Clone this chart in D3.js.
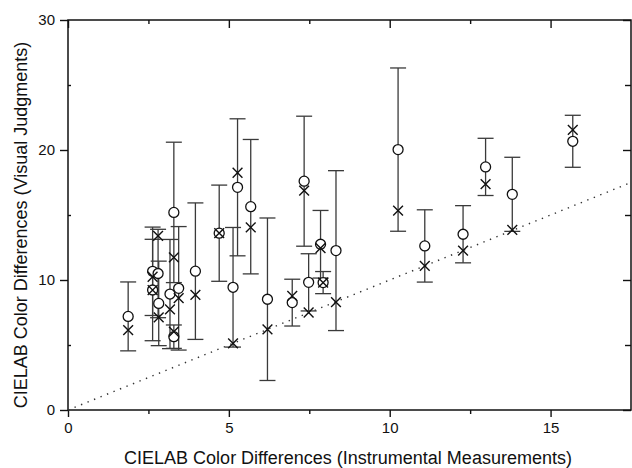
<!DOCTYPE html>
<html>
<head>
<meta charset="utf-8">
<script src="https://cdn.jsdelivr.net/npm/d3@7"></script>
<style>
  body { margin: 0; background: #fff; }
  text { font-family: "Liberation Sans", Arial, sans-serif; fill: #111; }
  .tick text { font-size: 15px; }
  .axis-title { font-size: 18px; }
</style>
</head>
<body>
<div id="chart"></div>
<script>
// instrumental colour differences (x) for each sample
const instrumental = [1.87, 2.63, 2.63, 2.80, 2.82, 3.17, 3.29, 3.29, 3.44, 3.96,
  4.70, 5.13, 5.27, 5.68, 6.20, 6.97, 7.34, 7.48, 7.85, 7.93,
  8.33, 10.26, 11.09, 12.28, 12.98, 13.81, 15.69];
// visual judgments, mean (circles) and error half-width
const visualMean = [7.2, 10.67, 9.23, 10.5, 8.2, 8.92, 15.2, 5.64, 9.36, 10.68,
  13.6, 9.44, 17.13, 15.64, 8.52, 8.26, 17.6, 9.82, 12.75, 9.8,
  12.26, 20.03, 12.62, 13.52, 18.7, 16.59, 20.67];
const visualErr = [2.65, 3.4, 3.9, 3.4, 3.25, 4.2, 5.4, 0.9, 4.75, 5.25,
  3.7, 4.6, 5.27, 5.17, 6.25, 1.8, 5.0, 2.2, 2.6, 0.85,
  6.15, 6.28, 2.78, 2.2, 2.2, 2.85, 2.0];
// second estimate (crosses)
const crossVals = [6.15, 10.25, 9.23, 13.4, 7.13, 7.74, 11.74, 6.03, 8.6, 8.85,
  13.6, 5.13, 18.25, 14.05, 6.2, 8.77, 16.87, 7.5, 12.45, 9.8,
  8.3, 15.33, 11.08, 12.26, 17.38, 13.85, 21.54];

const xMajor = [0, 5, 10, 15], xMinor = [2.5, 7.5, 12.5];
const yMajor = [0, 10, 20, 30], yMinor = [5, 15, 25];

const data = instrumental.map((x, i) => ({
  x: x, mean: visualMean[i], err: visualErr[i], cross: crossVals[i]
}));

// set the dimensions and margins of the graph
const margin = {top: 20, right: 1, bottom: 58, left: 68},
    width = 632 - margin.left - margin.right,
    height = 468 - margin.top - margin.bottom;

const svgRoot = d3.select("#chart")
  .append("svg")
    .attr("width", 632)
    .attr("height", 468);
const svg = svgRoot.append("g")
    .attr("transform", `translate(${margin.left},${margin.top})`);

const x = d3.scaleLinear().domain([0, 17.5]).range([0, width]);
const y = d3.scaleLinear().domain([0, 30]).range([height, 0]);

// axes: major + minor ticks on all four sides
function addAxis(axisFn, scale, vals, size, transform, labels) {
  const g = svg.append("g")
    .attr("transform", transform)
    .call(axisFn(scale).tickValues(vals).tickSizeInner(size).tickSizeOuter(0)
      .tickPadding(5).tickFormat(labels ? d3.format("d") : ""));
  g.select(".domain").remove();
  g.selectAll(".tick line").attr("stroke", "#111").attr("stroke-width", 1.4);
  return g;
}
addAxis(d3.axisBottom, x, xMajor, 7, `translate(0,${height})`, true);
addAxis(d3.axisBottom, x, xMinor, 4, `translate(0,${height})`, false);
addAxis(d3.axisTop, x, xMajor, -8, "translate(0,0)", false);
addAxis(d3.axisTop, x, xMinor, -4, "translate(0,0)", false);
addAxis(d3.axisLeft, y, yMajor, 8, "translate(0,0)", true);
addAxis(d3.axisLeft, y, yMinor, -3, "translate(0,0)", false);
addAxis(d3.axisRight, y, yMajor, -8, `translate(${width},0)`, false);
addAxis(d3.axisRight, y, yMinor, -6, `translate(${width},0)`, false);

svg.selectAll(".tick text").style("font-size", "15px");

// frame
svg.append("rect")
  .attr("x", 0).attr("y", 0)
  .attr("width", width).attr("height", height)
  .attr("fill", "none")
  .attr("stroke", "#111")
  .attr("stroke-width", 1.5);

// identity line
svg.append("line")
  .attr("x1", x(0)).attr("y1", y(0))
  .attr("x2", x(17.5)).attr("y2", y(17.5))
  .attr("stroke", "#333")
  .attr("stroke-width", 1.4)
  .attr("stroke-dasharray", "1.4,5.6");

// error bars
const bars = svg.append("g").selectAll("g").data(data).join("g")
  .attr("stroke", "#3a3a3a")
  .attr("stroke-width", 1.3);
bars.append("line")
  .attr("x1", d => x(d.x)).attr("x2", d => x(d.x))
  .attr("y1", d => y(d.mean - d.err)).attr("y2", d => y(d.mean + d.err));
bars.append("line")
  .attr("x1", d => x(d.x) - 8).attr("x2", d => x(d.x) + 8)
  .attr("y1", d => y(d.mean + d.err)).attr("y2", d => y(d.mean + d.err));
bars.append("line")
  .attr("x1", d => x(d.x) - 8).attr("x2", d => x(d.x) + 8)
  .attr("y1", d => y(d.mean - d.err)).attr("y2", d => y(d.mean - d.err));

// circles
svg.append("g").selectAll("circle").data(data).join("circle")
  .attr("cx", d => x(d.x))
  .attr("cy", d => y(d.mean))
  .attr("r", 5)
  .attr("fill", "#fff")
  .attr("stroke", "#111")
  .attr("stroke-width", 1.3);

// crosses (stroke-based symbol)
const cross = d3.symbol().type(d3.symbolX).size(64);
svg.append("g").selectAll("path").data(data).join("path")
  .attr("transform", d => `translate(${x(d.x)},${y(d.cross)})`)
  .attr("d", cross)
  .attr("fill", "none")
  .attr("stroke", "#111")
  .attr("stroke-width", 1.4);

// axis titles
svgRoot.append("text")
  .attr("class", "axis-title")
  .attr("x", 348)
  .attr("y", 464)
  .attr("text-anchor", "middle")
  .text("CIELAB Color Differences (Instrumental Measurements)");

svgRoot.append("text")
  .attr("class", "axis-title")
  .attr("transform", "translate(27,225) rotate(-90)")
  .attr("text-anchor", "middle")
  .text("CIELAB Color Differences (Visual Judgments)");
</script>
</body>
</html>
